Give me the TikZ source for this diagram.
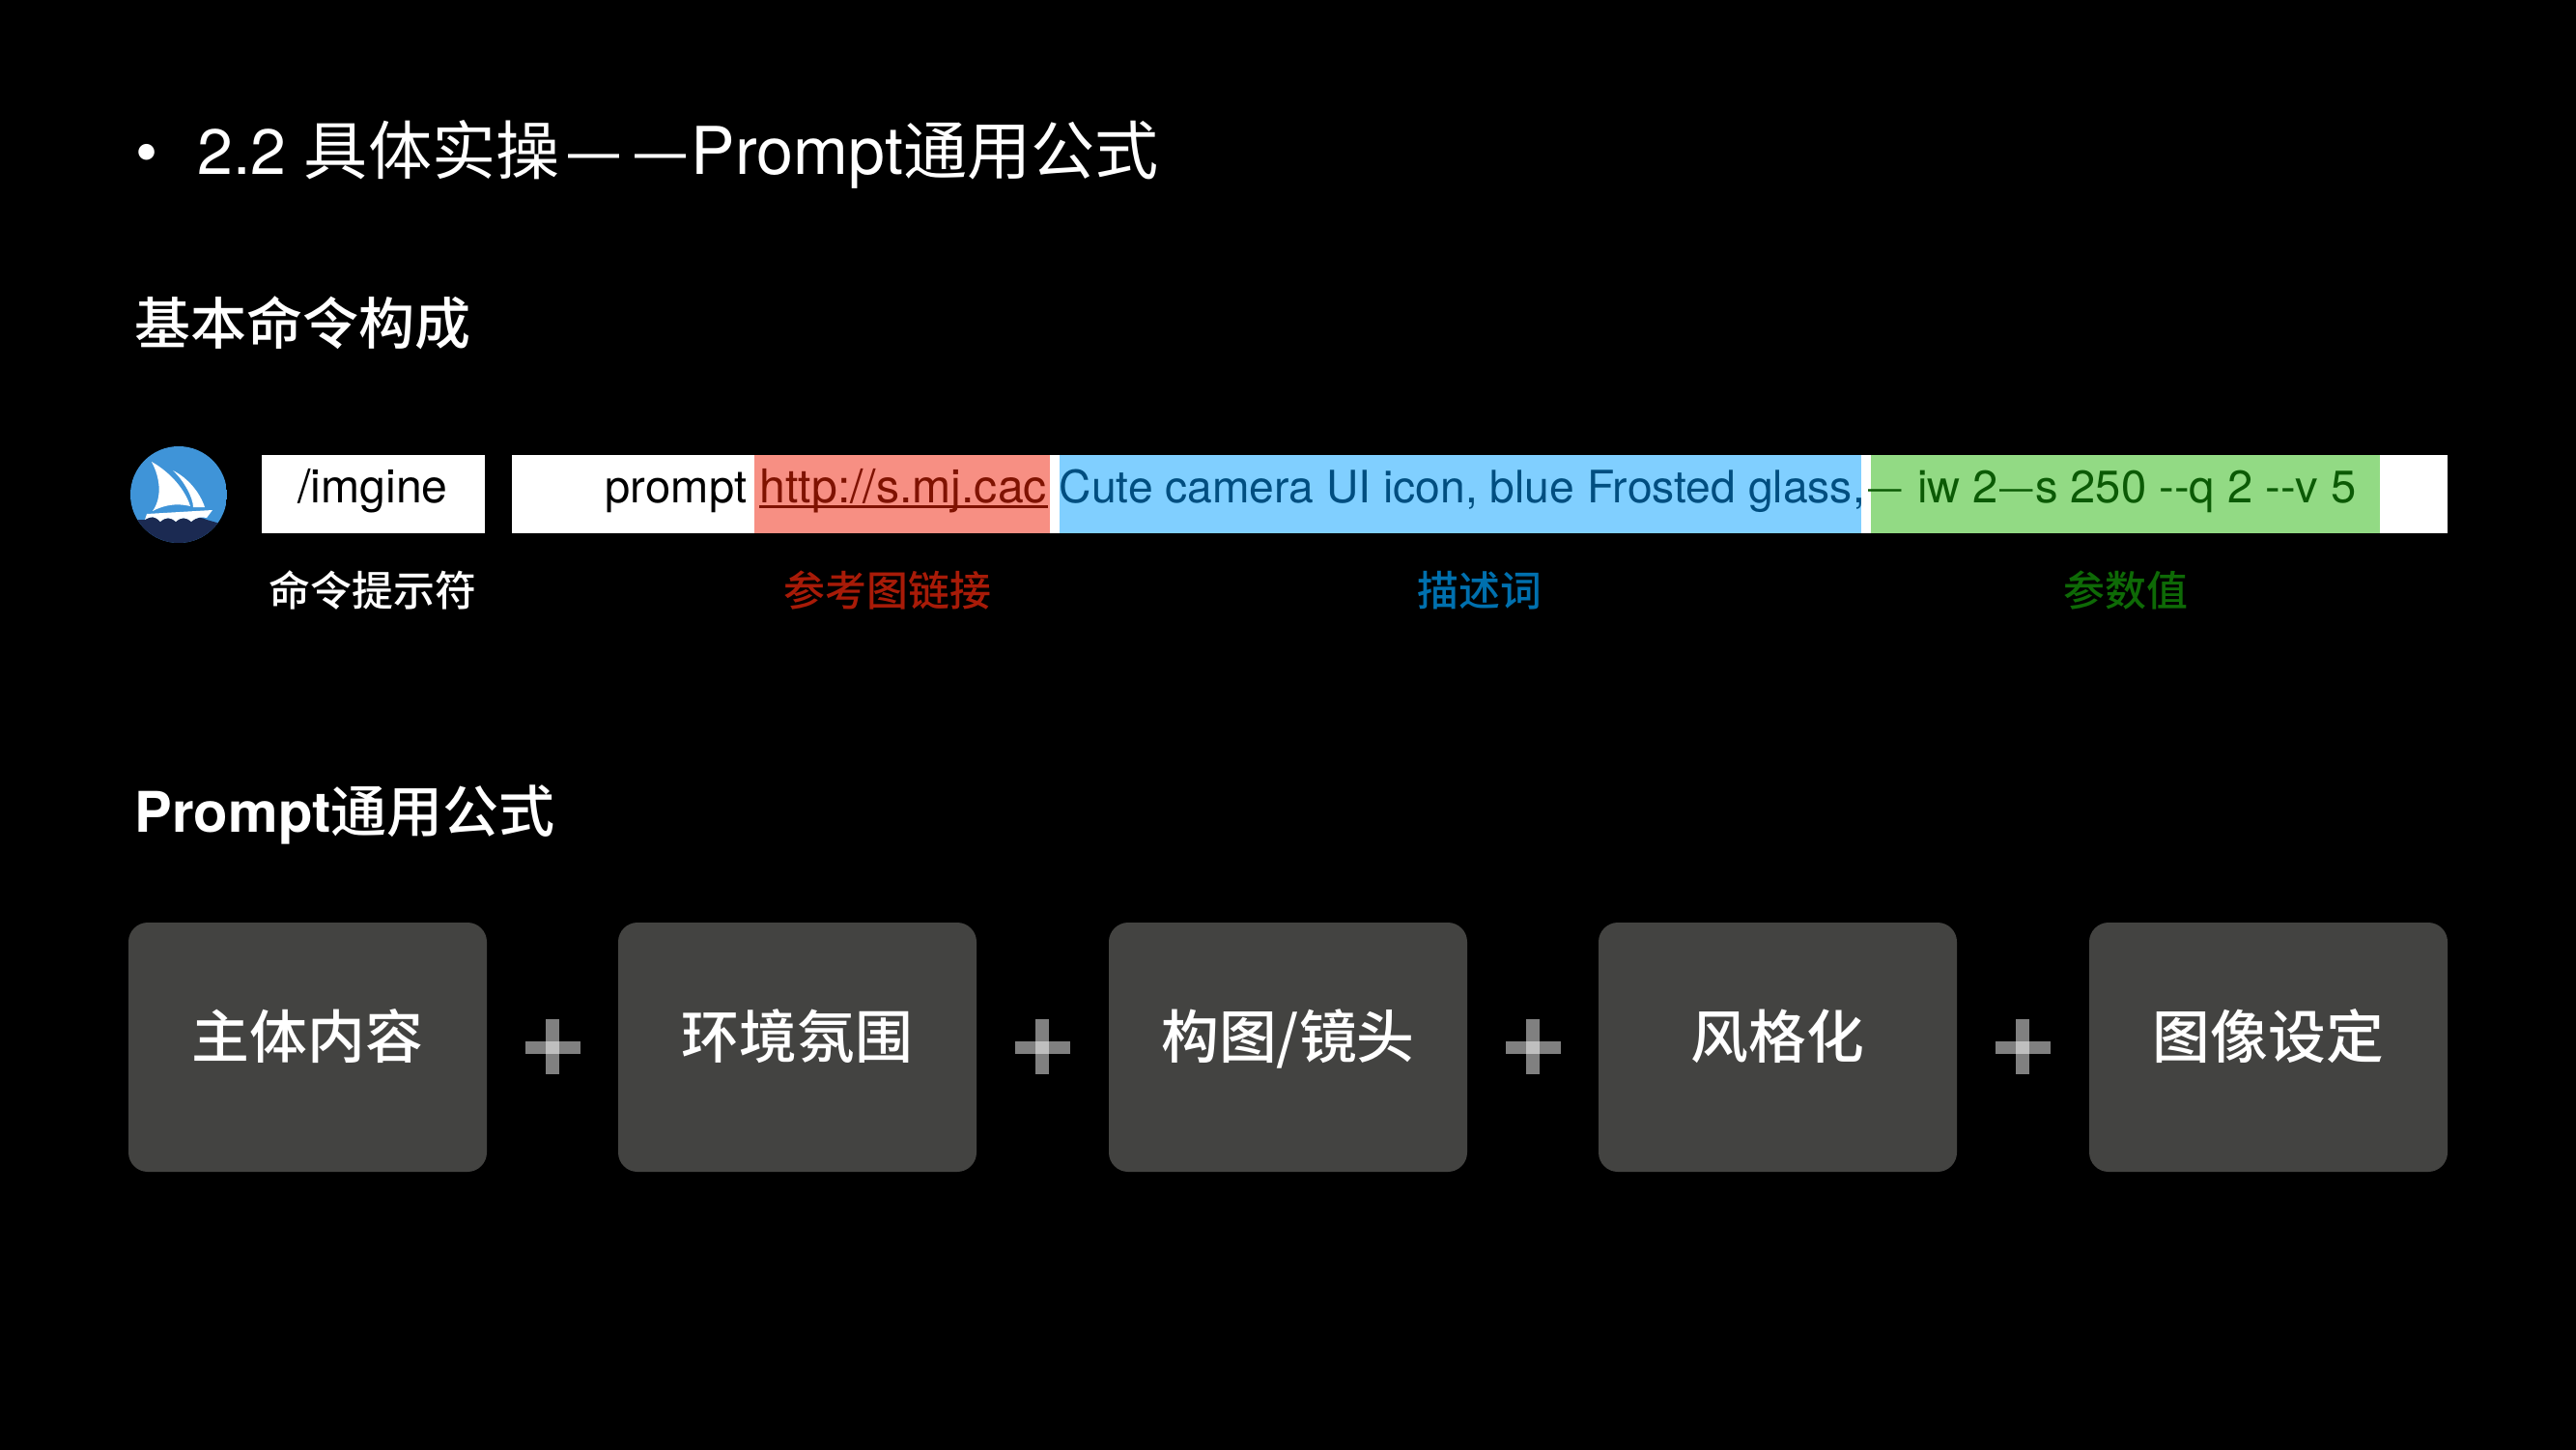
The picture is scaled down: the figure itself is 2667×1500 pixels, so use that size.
\documentclass[tikz,border=0pt]{standalone}
\usepackage{fontspec}
\setmainfont{TeX Gyre Heros}
\newfontfamily\cjk{Noto Sans CJK SC}
\newfontfamily\cjkmed{Noto Sans CJK SC Medium}
\usetikzlibrary{positioning, calc}

\definecolor{cardgray}{HTML}{434341}
\definecolor{linkfill}{HTML}{F78F83}
\definecolor{linktext}{HTML}{7F1200}
\definecolor{linklabel}{HTML}{A81B08}
\definecolor{descfill}{HTML}{80CFFF}
\definecolor{desctext}{HTML}{004E80}
\definecolor{desclabel}{HTML}{0070AE}
\definecolor{paramfill}{HTML}{92DA84}
\definecolor{paramtext}{HTML}{0B5A05}
\definecolor{paramlabel}{HTML}{0E6A06}
\definecolor{logoblue}{HTML}{3F94D8}
\definecolor{logonavy}{HTML}{1B2A52}

\newcommand{\pdash}{\raisebox{0.9pt}{\fontsize{9.8}{12}\selectfont —}}

\tikzset{
    txt/.style={inner sep=0pt, anchor=base west, text=white},
    titletxt/.style={txt, font=\fontsize{18.8}{22}\selectfont},
    headtxt/.style={txt, font=\fontsize{16.5}{20}\selectfont\bfseries},
    cmdtxt/.style={txt, font=\fontsize{13.7}{16}\selectfont, text=black},
    tagtxt/.style={inner sep=0pt, anchor=base, font=\fontsize{12.2}{15}\selectfont\cjkmed},
    cardtxt/.style={inner sep=0pt, anchor=base, text=white, font=\fontsize{17}{20}\selectfont\cjkmed}
}

\begin{document}
\begin{tikzpicture}[x=0.01cm, y=-0.01cm]
    \useasboundingbox (0,0) rectangle (2667,1500);
    \fill[black] (-5,-5) rectangle (2672,1505);

    % Title and headings
    \node[titletxt, anchor=base] (bullet) at (152,181) {•};
    \node[titletxt] (title) at (204,181) {2.2 {\cjk 具体实操\kern1.6pt —\kern3pt—\kern0.6pt}{\fontsize{19.4}{22}\selectfont Prompt}{\cjk 通用公式}};
    \node[headtxt] (headcmd) at (139,356) {\mdseries\cjkmed 基本命令构成};
    \node[headtxt] (headformula) at (139,861) {Prompt{\mdseries\cjkmed 通用公式}};

    % Logo
    \begin{scope}
        \clip (185,512) circle (50);
        \fill[logoblue] (135,462) rectangle (235,562);
        \fill[logonavy] (135,538) -- (150,538) .. controls (157,534) and (160,534) .. (166,540)
            .. controls (172,535) and (176,535) .. (182,540)
            .. controls (188,535) and (192,535) .. (198,540)
            .. controls (204,535) and (208,535) .. (214,538)
            -- (235,544) -- (235,562) -- (135,562) -- cycle;
        \fill[white] (157,478) .. controls (178,490) and (192,508) .. (197,524)
            .. controls (180,520) and (168,524) .. (158,529)
            .. controls (168,515) and (166,495) .. (157,478) -- cycle;
        \fill[white] (179,487) .. controls (195,495) and (207,510) .. (212,525)
            -- (200,525) .. controls (200,515) and (190,497) .. (179,487) -- cycle;
        \fill[white] (152,532) -- (220,528) -- (214,536)
            .. controls (208,535) and (204,535) .. (198,540)
            .. controls (192,535) and (188,535) .. (182,540)
            .. controls (176,535) and (172,535) .. (166,540)
            .. controls (160,534) and (157,534) .. (150,538) -- cycle;
    \end{scope}

    % Command bar
    \fill[white] (271,471) rectangle (502,552);
    \fill[white] (530,471) rectangle (2534,552);
    \fill[linkfill] (781,471) rectangle (1087,552);
    \fill[descfill] (1097,471) rectangle (1927,552);
    \fill[paramfill] (1937,471) rectangle (2464,552);

    % Command text
    \node[cmdtxt, anchor=base] (imgine) at (386,520.5) {/imgine};
    \node[cmdtxt, font=\fontsize{13.4}{16}\selectfont] (prompt) at (626,520.5) {prompt};
    \node[cmdtxt, text=linktext] (link) at (786,520.5) {http://s.mj.cac};
    \draw[linktext, line width=0.8pt] ($(link.base west)+(0,4)$) -- ($(link.base east)+(0,4)$);
    \node[cmdtxt, text=desctext, font=\fontsize{13.15}{16}\selectfont] (desc) at (1096,520.5) {Cute camera UI icon, blue Frosted glass,};
    \node[cmdtxt, text=paramtext, font=\fontsize{13.4}{16}\selectfont] (param) at (1934,520.5) {\pdash\kern4.6pt iw 2\kern0.5pt\pdash\kern0.5pt s 250 -{}-q 2 -{}-v 5};

    % Tags under the bar
    \foreach \x/\name/\clr/\label in {386/tagcmd/white/命令提示符, 919/taglink/linklabel/参考图链接, 1532/tagdesc/desclabel/描述词, 2201/tagparam/paramlabel/参数值} {
        \node[tagtxt, text=\clr] (\name) at (\x,627) {\label};
    }

    % Formula cards
    \foreach \x/\name/\label in {133/cardsubject/主体内容, 640/cardscene/环境氛围, 1148/cardshot/{构图/镜头}, 1655/cardstyle/风格化, 2163/cardimage/图像设定} {
        \fill[cardgray, rounded corners=0.2cm] (\x,955) rectangle (\x+371,1213);
        \node[cardtxt] (\name) at (\x+185.5,1095) {\label};
    }

    % Plus signs
    \foreach \x in {572,1079,1587,2094} {
        \fill[white, opacity=0.5] (\x-28.5,1077.5) rectangle (\x+28.5,1090.5);
        \fill[white, opacity=0.5] (\x-7,1055) rectangle (\x+7,1112);
    }
\end{tikzpicture}
\end{document}
